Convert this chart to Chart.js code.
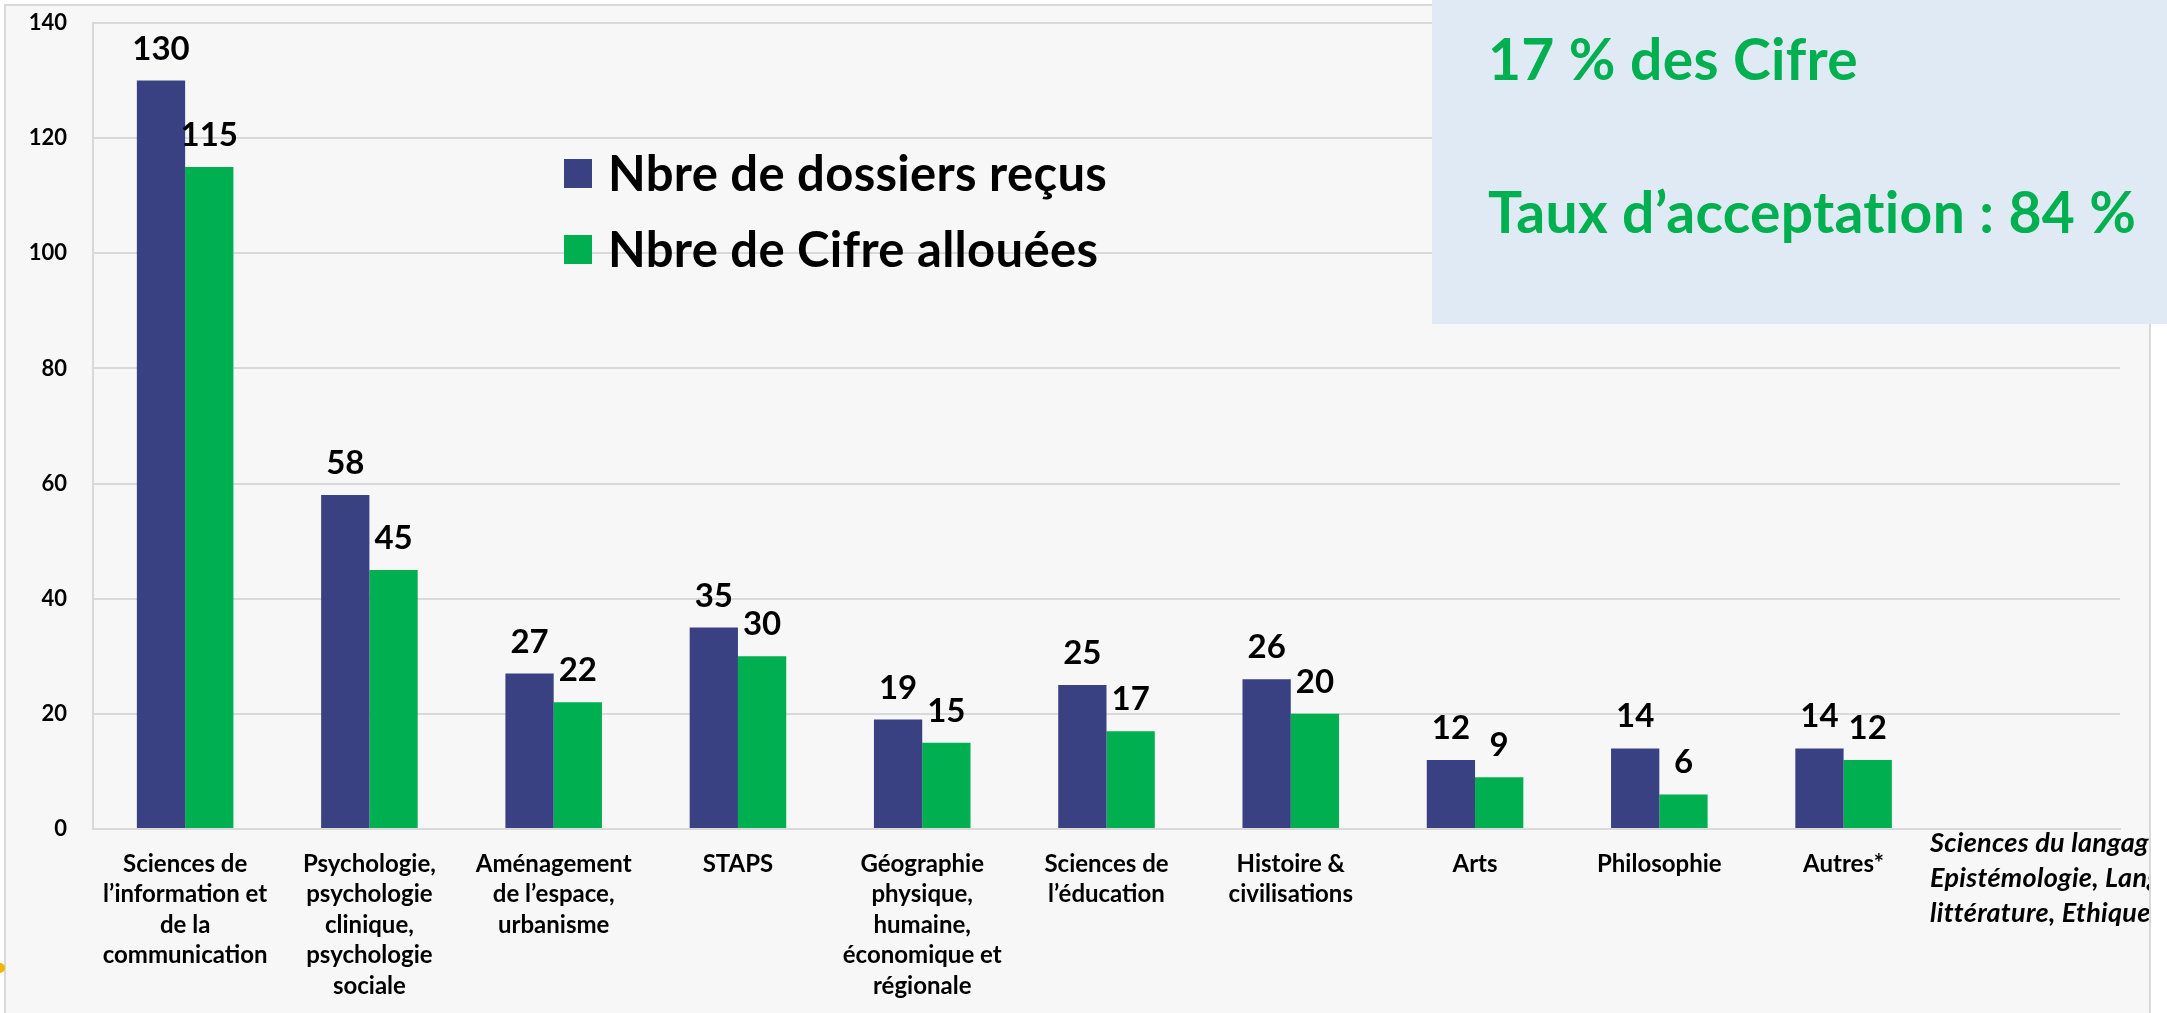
<!DOCTYPE html>
<html>
<head>
<meta charset="utf-8">
<script src="https://cdn.jsdelivr.net/npm/chart.js@4/dist/chart.umd.min.js"></script>
<style>
  body { margin: 0; background: #ffffff; }
</style>
</head>
<body>
<canvas id="chart" width="2167" height="1013"></canvas>
<script>
// Data
const categories = [
    ['Sciences de', 'l\u2019information et', 'de la', 'communication'],
    ['Psychologie,', 'psychologie', 'clinique,', 'psychologie', 'sociale'],
    ['Am\u00e9nagement', 'de l\u2019espace,', 'urbanisme'],
    ['STAPS'],
    ['G\u00e9ographie', 'physique,', 'humaine,', '\u00e9conomique et', 'r\u00e9gionale'],
    ['Sciences de', 'l\u2019\u00e9ducation'],
    ['Histoire &', 'civilisations'],
    ['Arts'],
    ['Philosophie'],
    ['Autres*'],
    ''
]
const dossiersRecus = [130, 58, 27, 35, 19, 25, 26, 12, 14, 14, null]
const cifreAllouees = [115, 45, 22, 30, 15, 17, 20, 9, 6, 12, null]
const yTicks = [0, 20, 40, 60, 80, 100, 120, 140]
const seriesLabels = ['Nbre de dossiers re\u00e7us', 'Nbre de Cifre allou\u00e9es']
const boxLines = ['17 % des Cifre', 'Taux d\u2019acceptation : 84 %']
const footnoteLines = ['Sciences du langage,', 'Epist\u00e9mologie, Langue et', 'litt\u00e9rature, Ethique']

// Colours
const BLUE = '#394183'
const GREEN = '#00b050'
const GRID = '#d9d9d9'
const FONT = 'Lato, "Open Sans", sans-serif'

// Frame and background
const framePlugin = {
    id: 'frame',
    beforeDraw (chart) {
        const ctx = chart.ctx
        ctx.save()
        ctx.fillStyle = '#ffffff'
        ctx.fillRect(0, 0, chart.width, chart.height)
        ctx.fillStyle = '#f7f7f7'
        ctx.fillRect(5, 5, 2145, chart.height)
        ctx.strokeStyle = GRID
        ctx.lineWidth = 2
        ctx.beginPath()
        ctx.moveTo(5, chart.height)
        ctx.lineTo(5, 5)
        ctx.lineTo(2150, 5)
        ctx.lineTo(2150, chart.height)
        ctx.stroke()
        // small yellow mark on the left edge
        ctx.fillStyle = '#f2b705'
        ctx.beginPath()
        ctx.arc(0, 968, 5, 0, Math.PI * 2)
        ctx.fill()
        ctx.restore()
    }
}

// Values above bars
const valueLabels = {
    id: 'valueLabels',
    afterDatasetsDraw (chart) {
        const ctx = chart.ctx
        ctx.save()
        ctx.font = 'bold 33px ' + FONT
        ctx.fillStyle = '#000000'
        ctx.textAlign = 'center'
        ctx.textBaseline = 'alphabetic'
        chart.data.datasets.forEach((ds, i) => {
            const meta = chart.getDatasetMeta(i)
            meta.data.forEach((bar, j) => {
                const v = ds.data[j]
                if (v === null) return
                ctx.fillText(String(v), bar.x, bar.y - 21)
            })
        })
        ctx.restore()
    }
}

// Legend, info box and footnote
const overlays = {
    id: 'overlays',
    afterDraw (chart) {
        const ctx = chart.ctx
        ctx.save()
        ctx.letterSpacing = '0.3px'

        // legend inside the plot
        const rows = [173, 249]
        chart.data.datasets.forEach((ds, i) => {
            ctx.fillStyle = ds.backgroundColor
            ctx.fillRect(564, rows[i] - 14, 28, 29)
            ctx.fillStyle = '#000000'
            ctx.font = 'bold 49px ' + FONT
            ctx.textAlign = 'left'
            ctx.textBaseline = 'middle'
            ctx.fillText(ds.label, 608, rows[i] + 2)
        })

        // info box top right
        ctx.fillStyle = '#dfeaf5'
        ctx.fillRect(1432, 0, chart.width - 1432, 324)
        ctx.fillStyle = GREEN
        ctx.font = 'bold 57px ' + FONT
        ctx.textAlign = 'left'
        ctx.textBaseline = 'alphabetic'
        ctx.fillText(boxLines[0], 1488, 80)
        ctx.fillText(boxLines[1], 1488, 233)

        // footnote, clipped by the frame
        ctx.beginPath()
        ctx.rect(0, 0, 2149, chart.height)
        ctx.clip()
        ctx.fillStyle = '#000000'
        ctx.font = 'italic bold 27px ' + FONT
        footnoteLines.forEach((line, i) => {
            ctx.fillText(line, 1930, 852 + i * 35)
        })
        ctx.restore()
    }
}

const chart = new Chart(document.getElementById('chart').getContext('2d'), {
    type: 'bar',
    data: {
        labels: categories,
        datasets: [{
            label: seriesLabels[0],
            data: dossiersRecus,
            backgroundColor: BLUE,
            borderWidth: 0
        }, {
            label: seriesLabels[1],
            data: cifreAllouees,
            backgroundColor: GREEN,
            borderWidth: 0
        }]
    },
    options: {
        responsive: false,
        animation: false,
        devicePixelRatio: 1,
        categoryPercentage: 0.524,
        barPercentage: 1,
        layout: { padding: { left: 0, top: 23, right: 47, bottom: 0 } },
        plugins: {
            legend: { display: false },
            tooltip: { enabled: false }
        },
        scales: {
            x: {
                grid: { display: false, drawTicks: false },
                border: { display: true, color: GRID, width: 2 },
                ticks: {
                    autoSkip: false,
                    maxRotation: 0,
                    minRotation: 0,
                    padding: 20,
                    color: '#000000',
                    font: { family: FONT, size: 24, weight: 'bold', lineHeight: 1.27 }
                },
                afterFit (scale) {
                    scale.height = 184
                    scale.paddingLeft = 0
                    scale.paddingRight = 0
                }
            },
            y: {
                min: 0,
                max: 140,
                afterBuildTicks (scale) { scale.ticks = yTicks.map(v => ({ value: v })) },
                grid: { color: GRID, lineWidth: 2, drawTicks: false },
                border: { display: true, color: GRID, width: 2 },
                ticks: {
                    padding: 26,
                    color: '#000000',
                    font: { family: FONT, size: 22, weight: 'bold' }
                },
                afterFit (scale) {
                    scale.width = 93
                    scale.paddingTop = 0
                    scale.paddingBottom = 0
                }
            }
        }
    },
    plugins: [framePlugin, valueLabels, overlays]
})
</script>
</body>
</html>
